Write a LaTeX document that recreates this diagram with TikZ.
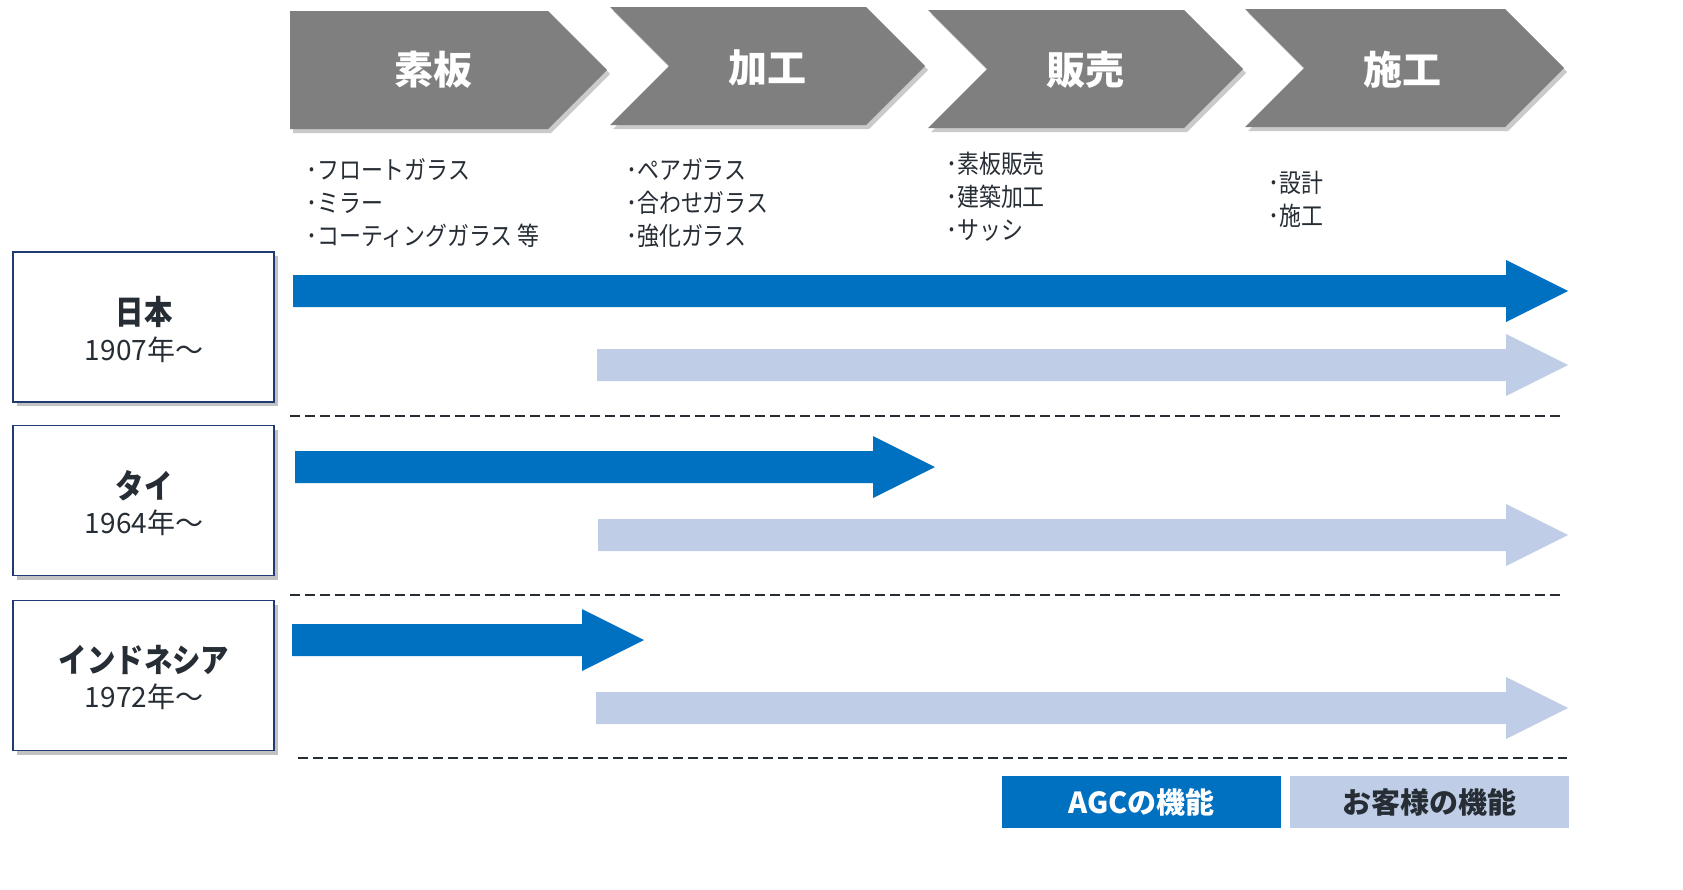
\documentclass[tikz,border=0pt]{standalone}
\usepackage{fontspec}
\setmainfont{Noto Sans CJK JP}[FakeStretch=0.86]
\newfontfamily\widejp{Noto Sans CJK JP}
\usetikzlibrary{shadows}
\definecolor{chev}{HTML}{7F7F7F}
\definecolor{agc}{HTML}{0070C0}
\definecolor{cust}{HTML}{BFCDE6}
\definecolor{ink}{HTML}{262D35}
\definecolor{navy}{HTML}{1F3B73}
\newcommand\fatarrow[4]{%
  \fill[#4] (#1,#3-16) -- (#2-62,#3-16) -- (#2-62,#3-31) -- (#2,#3) -- (#2-62,#3+31) -- (#2-62,#3+16) -- (#1,#3+16) -- cycle;}
\begin{document}
\begin{tikzpicture}[x=1pt,y=-1pt,
  chevshape/.style={fill=chev, drop shadow={shadow xshift=3pt, shadow yshift=-4pt, opacity=0.35, fill=black!60}},
  chevtext/.style={text=white, font=\widejp\fontsize{39}{42}\selectfont\bfseries, inner sep=0},
  bullets/.style={text=ink, font=\fontsize{25.5}{33}\selectfont, anchor=west, align=left, inner sep=0},
  cbox/.style={draw=navy, line width=1.2pt, fill=white, minimum width=261pt, minimum height=150pt, inner sep=0,
    drop shadow={shadow xshift=4pt, shadow yshift=-4pt, opacity=0.4, fill=black!60}},
  ctitle/.style={text=ink, font=\fontsize{33}{36}\selectfont\bfseries, inner sep=0},
  cyear/.style={text=ink, font=\widejp\fontsize{28}{30}\selectfont, inner sep=0},
  sep/.style={draw=ink, line width=2.8pt, dash pattern=on 10pt off 5pt},
  legend/.style={minimum width=279pt, minimum height=52pt, inner sep=0, font=\widejp\fontsize{29}{30}\selectfont\bfseries}
]
\useasboundingbox (0,0) rectangle (1683,889);
% chevrons
\path[chevshape] (290,11) -- (548,11) -- (607,70) -- (548,129) -- (290,129) -- cycle;
\path[chevshape] (610,7) -- (866,7) -- (925,66) -- (866,125) -- (610,125) -- (669,66) -- cycle;
\path[chevshape] (928,10) -- (1184,10) -- (1243,69) -- (1184,128) -- (928,128) -- (987,69) -- cycle;
\path[chevshape] (1245,9) -- (1505,9) -- (1564,68) -- (1505,127) -- (1245,127) -- (1304,68) -- cycle;
\node[chevtext] (s1) at (433,70) {素板};
\node[chevtext] (s2) at (767,68) {加工};
\node[chevtext] (s3) at (1085,70) {販売};
\node[chevtext] (s4) at (1402,70) {施工};
% bullet lists
\node[bullets] (b1) at (306,203) {･フロートガラス\\･ミラー\\･コーティングガラス 等};
\node[bullets] (b2) at (626,203) {･ペアガラス\\･合わせガラス\\･強化ガラス};
\node[bullets] (b3) at (946,197) {･素板販売\\･建築加工\\･サッシ};
\node[bullets] (b4) at (1268,199) {･設計\\･施工};
% country boxes
\node[cbox] (jp) at (143.5,327) {};
\node[cbox] (th) at (143.5,500.5) {};
\node[cbox] (id) at (143.5,675.5) {};
\node[ctitle] (jpt) at (144,312) {日本};
\node[cyear] (jpy) at (144,350) {1907年～};
\node[ctitle] (tht) at (144,486) {タイ};
\node[cyear] (thy) at (144,523) {1964年～};
\node[ctitle] (idt) at (144,660) {インドネシア};
\node[cyear] (idy) at (144,697) {1972年～};
% arrows
\fatarrow{293}{1568}{291}{agc}
\fatarrow{597}{1568}{365}{cust}
\fatarrow{295}{935}{467}{agc}
\fatarrow{598}{1568}{535}{cust}
\fatarrow{292}{644}{640}{agc}
\fatarrow{596}{1568}{708}{cust}
% separators
\draw[sep] (290,416) -- (1562,416);
\draw[sep] (290,595) -- (1562,595);
\draw[sep] (298,758) -- (1567,758);
% legend
\node[legend, fill=agc, text=white] (lg1) at (1141.5,802) {AGCの機能};
\node[legend, fill=cust, text=ink] (lg2) at (1429,802) {お客様の機能};
\end{tikzpicture}
\end{document}
